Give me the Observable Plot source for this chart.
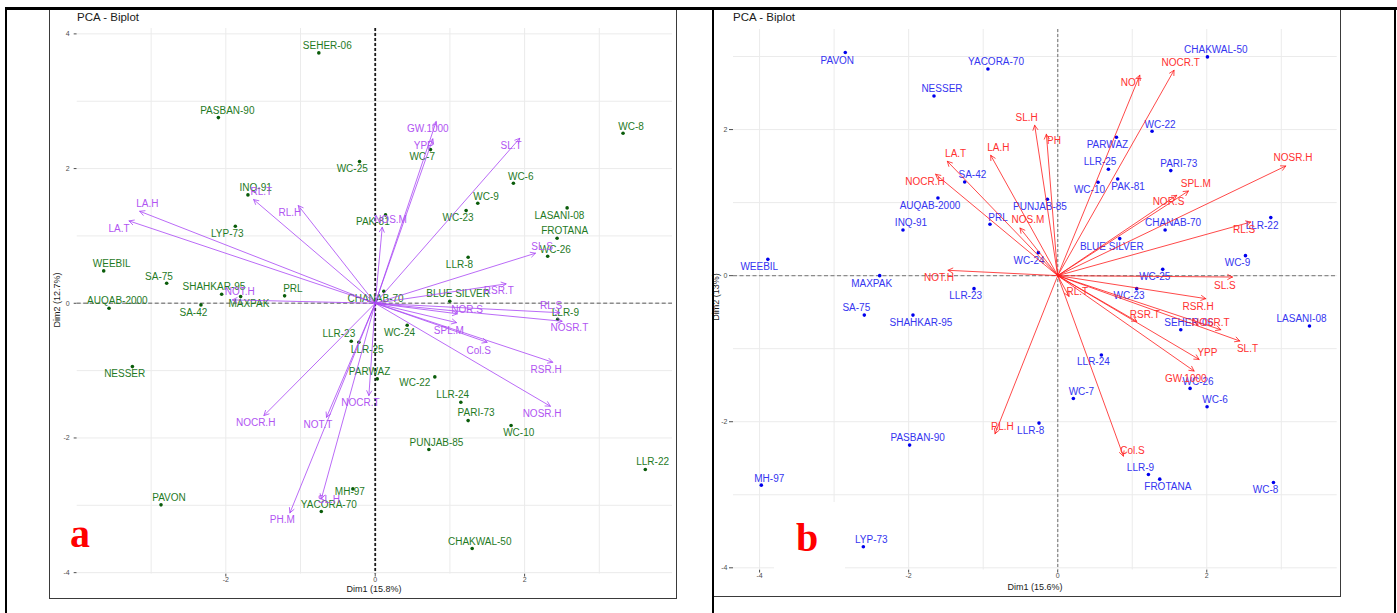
<!DOCTYPE html>
<html>
<head>
<meta charset="utf-8">
<script src="https://cdn.jsdelivr.net/npm/d3@7"></script>
<script src="https://cdn.jsdelivr.net/npm/@observablehq/plot@0.6"></script>
<style>
  html, body { margin: 0; padding: 0; background: #fff; }
  #page { position: relative; width: 1397px; height: 613px; overflow: hidden; background: #fff;
          font-family: "Liberation Sans", Arial, sans-serif; }
  .abs { position: absolute; }
  .title { font-size: 11.5px; line-height: 11.5px; color: #1a1a1a; white-space: nowrap; }
  .axt { font-size: 9px; line-height: 9px; color: #1a1a1a; white-space: nowrap; transform: translate(-50%, -50%); }
  .axty { font-size: 9px; line-height: 9px; color: #1a1a1a; white-space: nowrap; transform: translate(-50%, -50%) rotate(-90deg); }
  .tag { font-family: "Liberation Serif", "Times New Roman", serif; font-weight: bold; font-size: 40px; line-height: 40px; color: #ff0000; }
  .line { background: #000; z-index: 10; }
  .frame { border: 1px solid #3a3a3a; box-sizing: border-box; z-index: 5; pointer-events: none; }
</style>
</head>
<body>
<div id="page"></div>
<script>
// ---------------- Panel a data ----------------
const indNamesA = ["SEHER-06","PASBAN-90","WC-25","INQ-91","LYP-73","WEEBIL","SA-75","SHAHKAR-95","PRL","AUQAB-2000",
  "SA-42","MAXPAK","LLR-23","LLR-25","NESSER","PARWAZ","PAVON","MH-97","YACORA-70","WC-7",
  "WC-8","WC-6","WC-9","WC-23","LASANI-08","PAK-81","FROTANA","WC-26","LLR-8","CHANAB-70",
  "BLUE SILVER","LLR-9","WC-24","WC-22","LLR-24","PARI-73","WC-10","PUNJAB-85","LLR-22","CHAKWAL-50"];
const indXA = [-0.755,-2.10,-0.21,-1.704,-1.873,-3.635,-2.792,-2.056,-1.213,-3.564,
  -2.333,-1.802,-0.321,-0.219,-3.251,0.027,-2.868,-0.299,-0.722,0.740,
  3.318,1.850,1.373,1.217,2.569,0.138,2.435,2.309,1.244,0.115,
  0.998,2.443,0.428,0.798,1.146,1.244,1.819,0.718,3.616,1.298];
const indYA = [3.718,2.757,2.104,1.609,1.143,0.481,0.297,0.134,0.110,-0.074,
  -0.024,0.099,-0.564,-0.579,-0.940,-1.123,-2.993,-2.756,-3.093,2.282,
  2.524,1.782,1.485,1.376,1.416,1.312,0.965,0.698,0.683,0.178,
  0.030,-0.238,-0.327,-1.093,-1.470,-1.742,-1.816,-2.172,-2.469,-3.642];
const indLabelXA = [-0.642,-1.980,-0.308,-1.601,-1.980,-3.528,-2.895,-2.159,-1.102,-3.452,
  -2.435,-1.691,-0.487,-0.107,-3.354,-0.076,-2.761,-0.340,-0.621,0.629,
  3.425,1.948,1.485,1.110,2.466,-0.032,2.536,2.412,1.128,0.004,
  1.110,2.546,0.325,0.530,1.038,1.351,1.921,0.820,3.714,1.399];
const indLabelYA = [3.816,2.857,1.996,1.713,1.039,0.579,0.396,0.238,0.208,0.030,
  -0.138,-0.009,-0.454,-0.692,-1.048,-1.014,-2.889,-2.796,-2.989,2.178,
  2.624,1.881,1.584,1.268,1.302,1.203,1.069,0.797,0.570,0.065,
  0.140,-0.143,-0.439,-1.188,-1.360,-1.633,-1.924,-2.073,-2.361,-3.538];

const varNamesA = ["LA.H","LA.T","RL.T","RL.H","NOT.H","GW.1000","YPP","SL.T","NOS.M","SL.S",
  "RSR.T","RL.S","NOSR.T","NOR.S","SPL.M","Col.S","RSR.H","NOSR.H","NOCR.T","NOCR.H",
  "NOT.T","SL.H","PH.M"];
const varXA = [-3.153,-3.296,-1.628,-1.030,-1.913,0.816,0.771,1.935,0.094,2.145,
  1.752,2.47,2.502,1.10,1.088,1.498,2.376,2.345,-0.085,-1.490,
  -0.652,-0.722,-1.142];
const varYA = [1.366,1.223,1.540,1.451,0.050,2.698,2.441,2.450,1.128,0.743,
  0.288,-0.14,-0.267,-0.156,-0.287,-0.579,-0.876,-1.529,-1.370,-1.667,
  -1.693,-2.905,-3.112];
const varLabelXA = [-3.050,-3.430,-1.525,-1.142,-1.815,0.704,0.650,1.819,0.205,2.234,
  1.654,2.354,2.599,1.231,0.985,1.386,2.288,2.234,-0.197,-1.601,
  -0.768,-0.621,-1.244];
const varLabelYA = [1.476,1.099,1.648,1.342,0.163,2.589,2.342,2.331,1.243,0.842,
  0.189,-0.034,-0.371,-0.098,-0.405,-0.702,-0.989,-1.642,-1.485,-1.782,
  -1.801,-2.919,-3.216];

const xTicksA = [-2, 0, 2];
const yTicksA = [-4, -2, 0, 2, 4];
const gridXA = [-3, -2, -1, 0, 1, 2, 3];
const gridYA = [-4, -3, -2, -1, 0, 1, 2, 3, 4];

// ---------------- Panel b data ----------------
const indNamesB = ["PAVON","YACORA-70","NESSER","SA-42","AUQAB-2000","PUNJAB-85","INQ-91","PRL","WC-24","WEEBIL",
  "MAXPAK","LLR-23","SA-75","SHAHKAR-95","LLR-8","PASBAN-90","MH-97","LYP-73","CHAKWAL-50","WC-22",
  "PARWAZ","LLR-25","PARI-73","WC-10","PAK-81","CHANAB-70","BLUE SILVER","LLR-22","WC-9","WC-25",
  "WC-23","SEHER-06","LASANI-08","LLR-24","WC-26","WC-6","WC-7","LLR-9","FROTANA","WC-8"];
const indXB = [-2.850,-0.936,-1.660,-1.248,-1.607,-0.138,-2.076,-0.909,-0.259,-3.889,
  -2.389,-1.123,-2.595,-1.942,-0.251,-1.987,-3.977,-2.608,2.009,1.266,
  0.788,0.680,1.517,0.541,0.805,1.441,0.832,2.859,2.519,1.409,
  1.060,1.651,3.378,0.586,1.776,2.004,0.210,1.217,1.369,2.895];
const indYB = [3.055,2.830,2.460,1.282,1.063,1.045,0.625,0.703,0.315,0.223,
  0.0,-0.178,-0.540,-0.540,-2.019,-2.320,-2.868,-3.712,2.995,1.977,
  1.895,1.456,1.438,1.278,1.323,0.625,0.507,0.795,0.274,0.086,
  -0.178,-0.740,-0.690,-1.087,-1.544,-1.795,-1.681,-2.722,-2.786,-2.832];
const indLabelXB = [-2.957,-0.828,-1.553,-1.145,-1.714,-0.238,-1.969,-0.801,-0.385,-4.004,
  -2.497,-1.235,-2.702,-1.835,-0.362,-1.879,-3.870,-2.501,2.121,1.373,
  0.667,0.568,1.624,0.426,0.944,1.548,0.725,2.742,2.412,1.302,
  0.957,1.758,3.271,0.479,1.883,2.111,0.318,1.110,1.477,2.788];
const indLabelYB = [2.945,2.926,2.556,1.374,0.953,0.940,0.721,0.795,0.210,0.118,
  -0.105,-0.279,-0.444,-0.649,-2.123,-2.219,-2.777,-3.612,3.090,2.068,
  1.789,1.552,1.534,1.178,1.223,0.726,0.397,0.689,0.173,-0.019,
  -0.279,-0.644,-0.595,-1.184,-1.448,-1.695,-1.585,-2.626,-2.886,-2.932];

const varNamesB = ["NOCR.T","NOT","PH","SL.H","LA.H","LA.T","NOCR.H","NOS.M","NOT.H","NOSR.H",
  "SPL.M","NOR.S","RL.S","SL.S","RL.T","RSR.H","RSR.T","NOSR.T","SL.T","YPP",
  "GW.1000","Col.S","RL.H"];
const varXB = [1.561,1.101,-0.152,-0.309,-0.899,-1.481,-1.638,-0.506,-1.472,3.060,
  1.754,1.597,2.591,2.345,0.152,1.987,1.060,2.188,2.443,1.897,
  1.830,0.881,-0.841];
const varYB = [2.812,2.744,1.936,2.059,1.648,1.566,1.388,0.652,0.073,1.501,
  1.159,1.100,0.734,-0.019,-0.284,-0.315,-0.626,-0.740,-0.895,-1.147,
  -1.306,-2.471,-2.165];
const varLabelXB = [1.651,0.989,-0.050,-0.416,-0.796,-1.369,-1.781,-0.399,-1.593,3.158,
  1.852,1.486,2.501,2.242,0.264,1.883,1.168,2.054,2.546,2.009,
  1.718,1.003,-0.742];
const varLabelYB = [2.912,2.644,1.844,2.164,1.748,1.666,1.282,0.758,-0.033,1.616,
  1.260,1.008,0.630,-0.133,-0.215,-0.421,-0.534,-0.644,-0.996,-1.051,
  -1.407,-2.393,-2.074];

const xTicksB = [-4, -2, 0, 2];
const yTicksB = [-4, -2, 0, 2];
const gridXB = [-4, -3, -2, -1, 0, 1, 2, 3];
const gridYB = [-4, -3, -2, -1, 0, 1, 2, 3];

// ---------------- build ----------------
const FONT = '"Liberation Sans", Arial, sans-serif';
const page = document.getElementById("page");

function zipInd(names, xs, ys, lxs, lys) {
  return names.map((n, i) => ({name: n, x: xs[i], y: ys[i], lx: lxs[i], ly: lys[i]}));
}

function biplot(cfg) {
  const ind = zipInd(cfg.indNames, cfg.indX, cfg.indY, cfg.indLX, cfg.indLY);
  const vars = zipInd(cfg.varNames, cfg.varX, cfg.varY, cfg.varLX, cfg.varLY);
  const svg = Plot.plot({
    width: cfg.width, height: cfg.height,
    marginLeft: cfg.mL, marginRight: cfg.mR, marginTop: cfg.mT, marginBottom: cfg.mB,
    x: {domain: cfg.xDomain, ticks: cfg.xTicks, tickSize: 3, tickPadding: 0, tickFormat: d => String(d), label: null},
    y: {domain: cfg.yDomain, ticks: cfg.yTicks, tickSize: cfg.yTickSize, tickPadding: cfg.yTickPad, tickFormat: d => String(d), label: null},
    style: {fontFamily: FONT, fontSize: "7px", color: "#4d4d4d", background: "transparent", overflow: "visible"},
    marks: [
      Plot.ruleX(cfg.gridX, {stroke: "#ebebeb", strokeWidth: 1}),
      Plot.ruleY(cfg.gridY, {stroke: "#ebebeb", strokeWidth: 1}),
      Plot.ruleY([0], {stroke: "#8c8c8c", strokeWidth: 1.3, strokeDasharray: "4,2.5"}),
      Plot.ruleX([0], {stroke: cfg.vColor, strokeWidth: cfg.vWidth, strokeDasharray: "3,2"}),
      Plot.dot(ind, {x: "x", y: "y", r: 1.8, fill: cfg.pointColor, stroke: "none"}),
      Plot.text(ind, {x: "lx", y: "ly", text: "name", fill: cfg.indLabelColor, fontSize: 10, fontFamily: FONT}),
      Plot.arrow(vars, {x1: () => 0, y1: () => 0, x2: "x", y2: "y", stroke: cfg.arrowColor, strokeWidth: 0.8, headLength: 10, headAngle: 55}),
      Plot.text(vars, {x: "lx", y: "ly", text: "name", fill: cfg.varLabelColor, fontSize: 10, fontFamily: FONT})
    ]
  });
  svg.style.position = "absolute";
  svg.style.left = cfg.left + "px";
  svg.style.top = cfg.top + "px";
  page.appendChild(svg);
}

biplot({
  indNames: indNamesA, indX: indXA, indY: indYA, indLX: indLabelXA, indLY: indLabelYA,
  varNames: varNamesA, varX: varXA, varY: varYA, varLX: varLabelXA, varLY: varLabelYA,
  xTicks: xTicksA, yTicks: yTicksA, gridX: gridXA, gridY: gridYA,
  xDomain: [-3.99, 3.98], yDomain: [-4.02, 4.08],
  left: 49, top: 9, width: 627, height: 589, mL: 27.7, mR: 4, mT: 19, mB: 24.5,
  yTickSize: 3, yTickPad: 4.5,
  vColor: "#1a1a1a", vWidth: 1.8,
  pointColor: "#0a5c0a", indLabelColor: "#1f7a1f",
  arrowColor: "#a845f5", varLabelColor: "#b155f2"
});

biplot({
  indNames: indNamesB, indX: indXB, indY: indYB, indLX: indLabelXB, indLY: indLabelYB,
  varNames: varNamesB, varX: varXB, varY: varYB, varLX: varLabelXB, varLY: varLabelYB,
  xTicks: xTicksB, yTicks: yTicksB, gridX: gridXB, gridY: gridYB,
  xDomain: [-4.35, 3.75], yDomain: [-4.03, 3.37],
  left: 712, top: 9, width: 628, height: 587, mL: 21, mR: 3.3, mT: 20, mB: 26.5,
  yTickSize: 4, yTickPad: 2,
  vColor: "#8c8c8c", vWidth: 1.3,
  pointColor: "#0000ee", indLabelColor: "#3535f0",
  arrowColor: "#ff1a1a", varLabelColor: "#ff3030"
});

// ---------------- text & decorations ----------------
function addDiv(cls, style, text) {
  const d = document.createElement("div");
  d.className = "abs " + cls;
  Object.assign(d.style, style);
  if (text != null) d.textContent = text;
  page.appendChild(d);
  return d;
}

addDiv("title", {left: "77px", top: "12px"}, "PCA - Biplot");
addDiv("title", {left: "733px", top: "12px"}, "PCA - Biplot");
addDiv("axt", {left: "374px", top: "589px"}, "Dim1 (15.8%)");
addDiv("axty", {left: "57px", top: "300px"}, "Dim2 (12.7%)");
addDiv("axt", {left: "1035px", top: "587px"}, "Dim1 (15.6%)");
addDiv("axty", {left: "716px", top: "297px"}, "Dim2 (13%)");

addDiv("tag", {left: "70px", top: "514px"}, "a");
const bbox = addDiv("", {left: "774px", top: "502px", width: "71px", height: "70px", background: "#fff"});
addDiv("tag", {left: "796px", top: "518px"}, "b");

// frames of the two images
addDiv("frame", {left: "49px", top: "8px", width: "628px", height: "591px"});
addDiv("frame", {left: "712px", top: "8px", width: "629px", height: "589px"});

// table lines
addDiv("line", {left: "5px", top: "7px", width: "1392px", height: "2.5px"});
addDiv("line", {left: "5px", top: "7px", width: "2px", height: "606px"});
addDiv("line", {left: "711.5px", top: "7px", width: "2px", height: "606px"});
addDiv("line", {left: "1393.5px", top: "7px", width: "2.5px", height: "606px"});
</script>
</body>
</html>
